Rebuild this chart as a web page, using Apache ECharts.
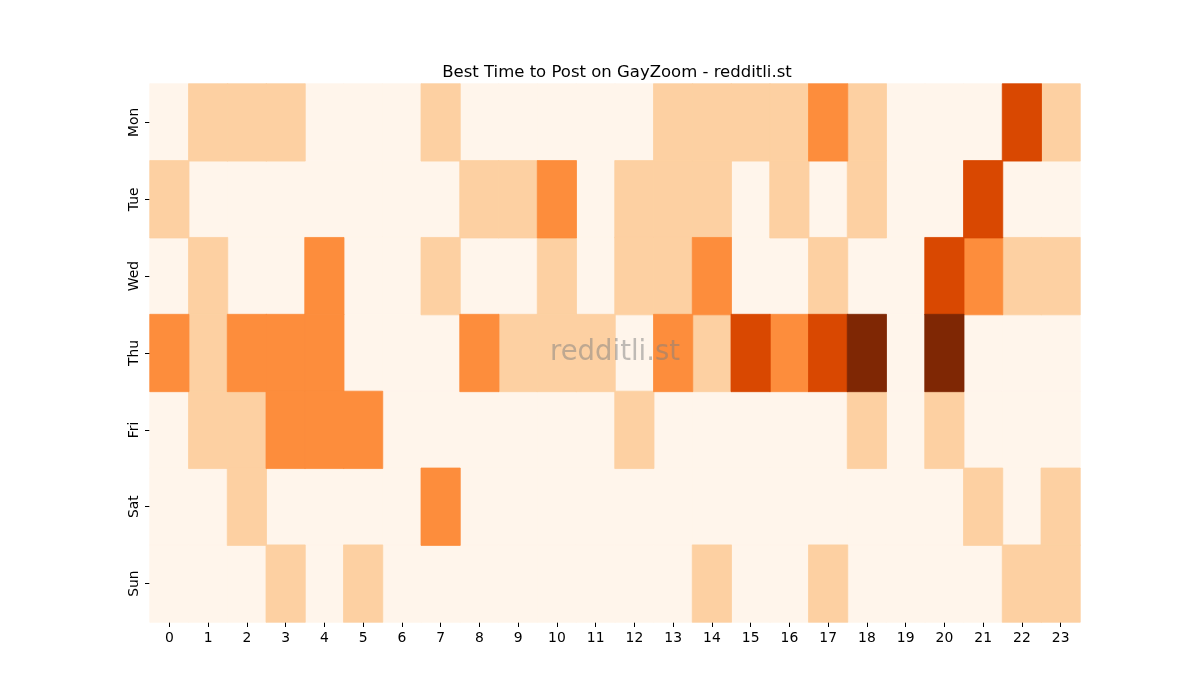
<!DOCTYPE html>
<html>
<head>
<meta charset="utf-8">
<script src="https://cdn.jsdelivr.net/npm/echarts@6/dist/echarts.min.js"></script>
<style>
html,body{margin:0;padding:0;background:#fff;}
#chart{width:1200px;height:700px;}
</style>
</head>
<body>
<div id="chart"></div>
<script>
const hours = ['0','1','2','3','4','5','6','7','8','9','10','11','12','13','14','15','16','17','18','19','20','21','22','23'];
const days = ['Mon','Tue','Wed','Thu','Fri','Sat','Sun'];
const mon = [0,1,1,1,0,0,0,1,0,0,0,0,0,1,1,1,1,2,1,0,0,0,3,1];
const tue = [1,0,0,0,0,0,0,0,1,1,2,0,1,1,1,0,1,0,1,0,0,3,0,0];
const wed = [0,1,0,0,2,0,0,1,0,0,1,0,1,1,2,0,0,1,0,0,3,2,1,1];
const thu = [2,1,2,2,2,0,0,0,2,1,1,1,0,2,1,3,2,3,4,0,4,0,0,0];
const fri = [0,1,1,2,2,2,0,0,0,0,0,0,1,0,0,0,0,0,1,0,1,0,0,0];
const sat = [0,0,1,0,0,0,0,2,0,0,0,0,0,0,0,0,0,0,0,0,0,1,0,1];
const sun = [0,0,0,1,0,1,0,0,0,0,0,0,0,0,1,0,0,1,0,0,0,0,1,1];
const rows = [mon,tue,wed,thu,fri,sat,sun];
const levelColors = ['#fff5eb','#fdd0a2','#fd8d3c','#d94801','#7f2704'];

const series = levelColors.map((c, lvl) => {
  const d = [];
  rows.forEach((r, yi) => r.forEach((v, xi) => { if (v === lvl) d.push([xi, yi, v]); }));
  return {
    type: 'heatmap', data: d,
    itemStyle: {color: c, borderColor: c, borderWidth: 0.8},
    emphasis: {disabled: true}
  };
});

const font = 'DejaVu Sans';
const chart = echarts.init(document.getElementById('chart'));
chart.setOption({
  animation: false,
  backgroundColor: '#ffffff',
  title: {
    text: 'Best Time to Post on GayZoom - redditli.st',
    left: 612, top: 59, textAlign: 'center',
    textStyle: {fontFamily: font, fontSize: 16.5, fontWeight: 'normal', color: '#000'}
  },
  grid: {left: 150, right: 120, top: 84, bottom: 78},
  xAxis: {
    type: 'category', data: hours,
    axisLine: {show: false},
    axisTick: {show: true, alignWithLabel: true, length: 5, lineStyle: {color: '#000'}},
    axisLabel: {fontFamily: font, fontSize: 13.9, color: '#000', margin: 9},
    splitLine: {show: false}
  },
  yAxis: {
    type: 'category', data: days, inverse: true,
    axisLine: {show: false},
    axisTick: {show: true, alignWithLabel: true, length: 5, lineStyle: {color: '#000'}},
    axisLabel: {fontFamily: font, fontSize: 13.9, color: '#000', rotate: 90, margin: 9},
    splitLine: {show: false}
  },
  series: series,
  graphic: [{
    type: 'text', position: [615, 353], z: 100,
    style: {
      text: 'redditli.st', x: 0, y: 0,
      textAlign: 'center', textVerticalAlign: 'middle',
      font: '27.5px "DejaVu Sans"', fill: 'rgba(128,128,128,0.5)'
    }
  }]
});
</script>
</body>
</html>
